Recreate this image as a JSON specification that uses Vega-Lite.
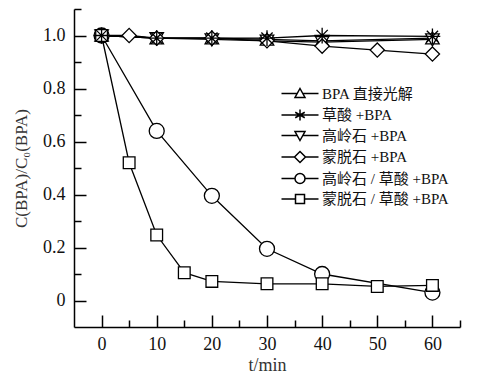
{
  "$schema": "https://vega.github.io/schema/vega-lite/v6.json",
  "width": 386,
  "height": 318,
  "autosize": "none",
  "padding": {"left": 74, "top": 9, "right": 23, "bottom": 49},
  "background": "white",
  "config": {
    "view": {"stroke": null},
    "font": "Liberation Serif",
    "axis": {
      "domainColor": "black", "domainWidth": 1.5, "tickColor": "black", "tickWidth": 1.5,
      "grid": false, "labelFont": "Liberation Serif", "labelFontSize": 18, "labelColor": "#111",
      "titleFont": "Liberation Serif", "titleFontWeight": "normal", "titleColor": "#333"
    }
  },
  "data": {
    "values": [
      {"s": "BPA 直接光解", "t": 0, "c": 1.0},
      {"s": "BPA 直接光解", "t": 10, "c": 0.99},
      {"s": "BPA 直接光解", "t": 20, "c": 0.99},
      {"s": "BPA 直接光解", "t": 30, "c": 0.985},
      {"s": "BPA 直接光解", "t": 40, "c": 0.98},
      {"s": "BPA 直接光解", "t": 60, "c": 0.99},
      {"s": "高岭石 +BPA", "t": 0, "c": 1.0},
      {"s": "高岭石 +BPA", "t": 10, "c": 0.99},
      {"s": "高岭石 +BPA", "t": 20, "c": 0.985},
      {"s": "高岭石 +BPA", "t": 30, "c": 0.98},
      {"s": "高岭石 +BPA", "t": 40, "c": 0.975},
      {"s": "高岭石 +BPA", "t": 60, "c": 0.985},
      {"s": "蒙脱石 +BPA", "t": 0, "c": 1.0},
      {"s": "蒙脱石 +BPA", "t": 5, "c": 1.0},
      {"s": "蒙脱石 +BPA", "t": 10, "c": 0.99},
      {"s": "蒙脱石 +BPA", "t": 20, "c": 0.99},
      {"s": "蒙脱石 +BPA", "t": 30, "c": 0.98},
      {"s": "蒙脱石 +BPA", "t": 40, "c": 0.96},
      {"s": "蒙脱石 +BPA", "t": 50, "c": 0.945},
      {"s": "蒙脱石 +BPA", "t": 60, "c": 0.93},
      {"s": "高岭石 / 草酸 +BPA", "t": 0, "c": 1.0},
      {"s": "高岭石 / 草酸 +BPA", "t": 10, "c": 0.64},
      {"s": "高岭石 / 草酸 +BPA", "t": 20, "c": 0.395},
      {"s": "高岭石 / 草酸 +BPA", "t": 30, "c": 0.195},
      {"s": "高岭石 / 草酸 +BPA", "t": 40, "c": 0.1},
      {"s": "高岭石 / 草酸 +BPA", "t": 60, "c": 0.03},
      {"s": "蒙脱石 / 草酸 +BPA", "t": 0, "c": 1.0},
      {"s": "蒙脱石 / 草酸 +BPA", "t": 5, "c": 0.52},
      {"s": "蒙脱石 / 草酸 +BPA", "t": 10, "c": 0.247},
      {"s": "蒙脱石 / 草酸 +BPA", "t": 15, "c": 0.105},
      {"s": "蒙脱石 / 草酸 +BPA", "t": 20, "c": 0.072},
      {"s": "蒙脱石 / 草酸 +BPA", "t": 30, "c": 0.063},
      {"s": "蒙脱石 / 草酸 +BPA", "t": 40, "c": 0.063},
      {"s": "蒙脱石 / 草酸 +BPA", "t": 50, "c": 0.053},
      {"s": "蒙脱石 / 草酸 +BPA", "t": 60, "c": 0.057},
      {"s": "草酸 +BPA", "t": 0, "c": 1.0},
      {"s": "草酸 +BPA", "t": 10, "c": 0.99},
      {"s": "草酸 +BPA", "t": 20, "c": 0.99},
      {"s": "草酸 +BPA", "t": 30, "c": 0.99},
      {"s": "草酸 +BPA", "t": 40, "c": 1.0},
      {"s": "草酸 +BPA", "t": 60, "c": 0.997}
    ]
  },
  "resolve": {"axis": {"x": "independent", "y": "independent"}, "scale": {"shape": "independent"}},
  "layer": [
    {
      "mark": {"type": "line", "color": "black", "strokeWidth": 1.3},
      "encoding": {
        "x": {"field": "t", "type": "quantitative", "scale": {"domain": [-5, 65], "nice": false, "zero": false},
          "axis": {"orient": "bottom", "values": [0, 10, 20, 30, 40, 50, 60], "tickSize": -12, "labelPadding": 20,
            "title": "t/min", "titleFontSize": 18, "titlePadding": 3}},
        "y": {"field": "c", "type": "quantitative", "scale": {"domain": [-0.1, 1.1], "nice": false, "zero": false},
          "axis": {"orient": "left", "values": [0, 0.2, 0.4, 0.6, 0.8, 1.0], "tickSize": -12, "labelPadding": 21,
            "labelExpr": "datum.value === 0 ? '0' : format(datum.value, '.1f')",
            "title": "C(BPA)/C₀(BPA)", "titleFontSize": 17, "titlePadding": 12}},
        "detail": {"field": "s"}
      }
    },
    {
      "mark": {"type": "point", "filled": true, "fill": "white", "stroke": "black", "strokeWidth": 1.3, "size": 225, "opacity": 1},
      "encoding": {
        "x": {"field": "t", "type": "quantitative",
          "axis": {"orient": "bottom", "values": [5, 15, 25, 35, 45, 55, 65], "tickSize": -7, "labels": false, "domain": false, "title": null}},
        "y": {"field": "c", "type": "quantitative",
          "axis": {"orient": "left", "values": [0.1, 0.3, 0.5, 0.7, 0.9, 1.1], "tickSize": -7, "labels": false, "domain": false, "title": null}},
        "shape": {
          "field": "s", "type": "nominal", "legend": null,
          "scale": {
            "domain": ["BPA 直接光解", "草酸 +BPA", "高岭石 +BPA", "蒙脱石 +BPA", "高岭石 / 草酸 +BPA", "蒙脱石 / 草酸 +BPA"],
            "range": [
              "M0,-0.85L0.9,0.75L-0.9,0.75Z",
              "M-1.05,0H1.05M0,-1.05V1.05M-0.75,-0.75L0.75,0.75M-0.75,0.75L0.75,-0.75",
              "M0,0.85L0.9,-0.75L-0.9,-0.75Z",
              "M0,-0.95L0.95,0L0,0.95L-0.95,0Z",
              "circle",
              "M-0.78,-0.78H0.78V0.78H-0.78Z"
            ]
          }
        }
      }
    },
    {
      "mark": {"type": "point", "filled": true, "fill": "white", "stroke": "black", "strokeWidth": 1.3, "opacity": 0},
      "encoding": {
        "x": {"field": "t", "type": "quantitative", "axis": null},
        "y": {"field": "c", "type": "quantitative", "axis": null},
        "shape": {
          "field": "s", "type": "nominal",
          "scale": {
            "domain": ["BPA 直接光解", "草酸 +BPA", "高岭石 +BPA", "蒙脱石 +BPA", "高岭石 / 草酸 +BPA", "蒙脱石 / 草酸 +BPA"],
            "range": [
              "M-1,0H2.15M3.25,0H6.4M2.7,-1L3.7,0.8L1.7,0.8Z",
              "M-1,0H6.4M2.7,-1.1V1.1M1.75,-0.55L3.65,0.55M1.75,0.55L3.65,-0.55",
              "M-1,0H2.15M3.25,0H6.4M2.7,1L3.7,-0.8L1.7,-0.8Z",
              "M-1,0H1.6M3.8,0H6.4M2.7,-1.1L3.8,0L2.7,1.1L1.6,0Z",
              "M-1,0H1.7M3.7,0H6.4M3.7,0A1,1,0,1,1,1.7,0A1,1,0,1,1,3.7,0Z",
              "M-1,0H1.8M3.6,0H6.4M1.8,-0.9H3.6V0.9H1.8Z"
            ]
          },
          "legend": {
            "title": null, "orient": "none", "legendX": 205, "legendY": 77,
            "labelFont": "Liberation Serif, Noto Sans CJK SC", "labelFontSize": 15, "labelColor": "#111",
            "labelOffset": 28, "rowPadding": 4.5, "symbolSize": 100, "symbolOpacity": 1,
            "encode": {
              "symbols": {
                "stroke": {"value": "black"},
                "fill": {"value": "white"},
                "strokeWidth": {"value": 1.3},
                "opacity": {"value": 1}
              }
            }
          }
        }
      }
    }
  ]
}
